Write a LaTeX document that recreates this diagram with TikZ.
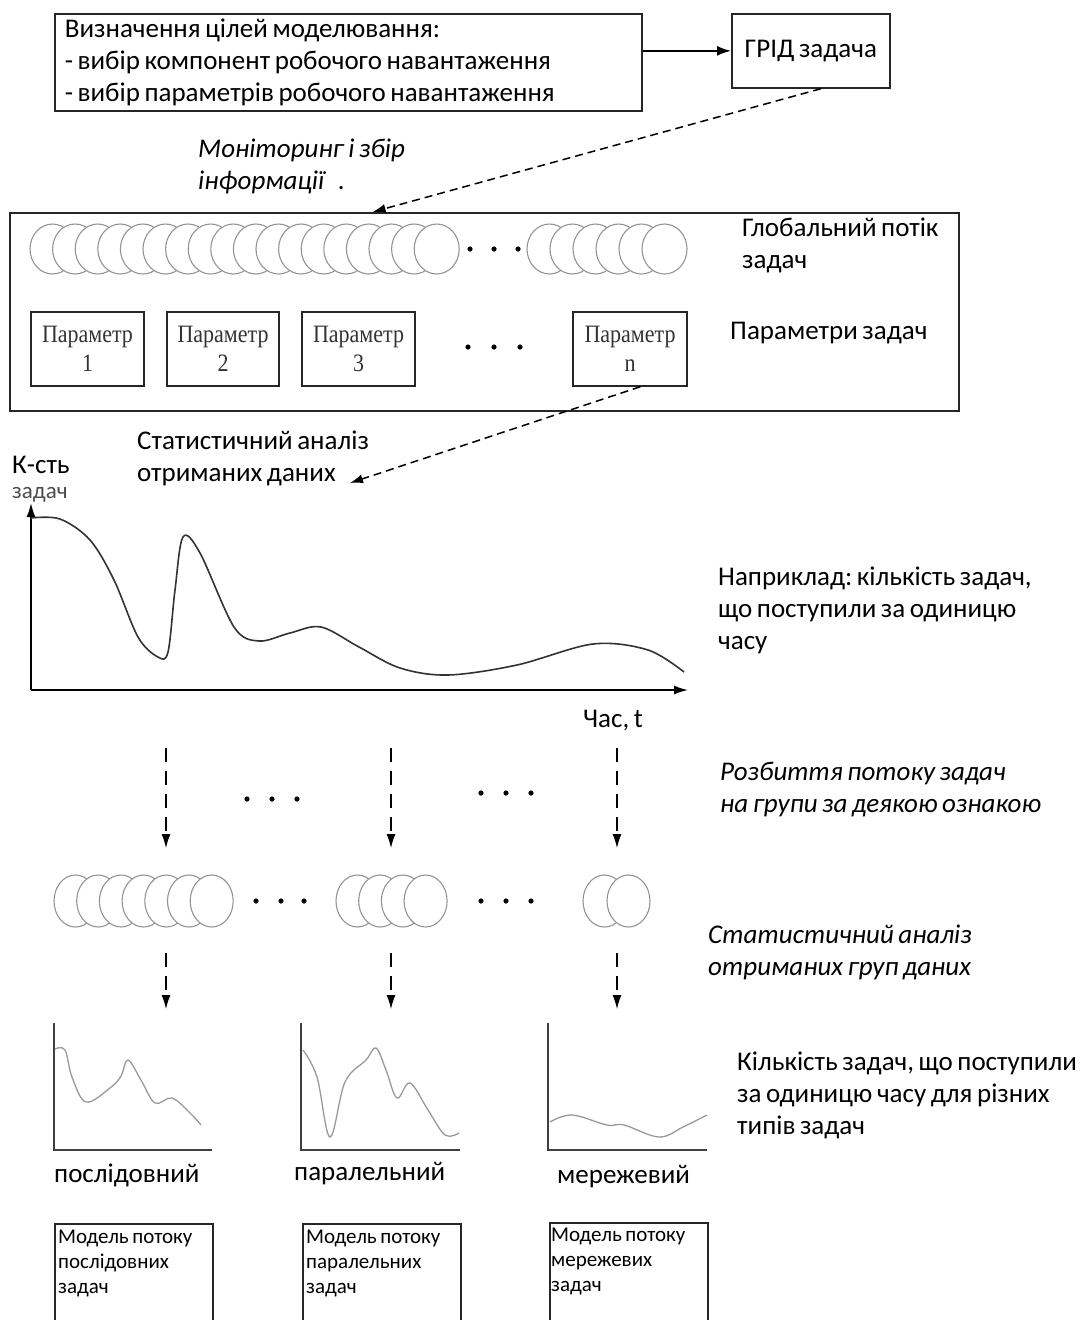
\documentclass[tikz,border=0pt]{standalone}
\usepackage{fontspec}
\setmainfont{Carlito}[WordSpace=0.75]
\newfontfamily\parfont[FakeStretch=0.88]{Liberation Serif}
\usetikzlibrary{arrows.meta,calc}
\frenchspacing

\begin{document}
\begin{tikzpicture}[x=1pt,y=-1pt,
  box/.style={draw=black!85, line width=1.7pt, inner sep=0pt},
  parbox/.style={draw=black!85, line width=1.4pt, inner sep=0pt,
    minimum width=113pt, minimum height=74pt, align=center,
    font=\parfont\fontsize{25}{29}\selectfont, text=black!80},
  modelbox/.style={draw=black!85, line width=1.7pt, inner sep=0pt,
    anchor=north west, minimum width=158pt, minimum height=130pt},
  disk/.style={draw=black!42, fill=white, line width=1.1pt},
  dot/.style={fill=black},
  solidarrow/.style={-{Latex[length=14pt,width=10pt]}, line width=1.7pt},
  dasharrow/.style={-{Latex[length=13pt,width=9pt]}, line width=1.5pt,
    dash pattern=on 8pt off 5pt},
  vdash/.style={-{Latex[length=14pt,width=9pt]}, line width=1.2pt,
    dash pattern=on 14pt off 9pt},
  axis/.style={-{Latex[length=14pt,width=9pt]}, line width=1.6pt},
  smallaxis/.style={line width=2pt, draw=black!75},
  bigcurve/.style={line width=1.6pt, draw=black!80},
  smallcurve/.style={line width=1.3pt, draw=black!40},
  lbl/.style={anchor=base west, align=left, inner sep=0pt,
    font=\fontsize{27}{32}\selectfont},
  ilbl/.style={lbl, font=\fontsize{27}{32}\selectfont\itshape},
  mtext/.style={anchor=base west, align=left, inner sep=0pt,
    font=\fontsize{21}{25}\selectfont}
]
\useasboundingbox (0,0) rectangle (1084,1320);
% note: a multi-line label's base anchor sits on its last line

% goals of modelling and the grid task
\node[box, anchor=north west, minimum width=587pt, minimum height=97pt,
      text width=567pt, inner xsep=10pt, align=flush left,
      font=\fontsize{27}{32}\selectfont] (goal) at (54,13)
  {Визначення цілей моделювання:\\- вибір компонент робочого навантаження\\- вибір параметрів робочого навантаження};
\node[box, anchor=north west, minimum width=158pt, minimum height=74pt,
      font=\fontsize{27}{32}\selectfont] (grid) at (731,13) {ГРІД задача};
\draw[solidarrow] (goal.east |- grid.west) -- (grid.west);

% global task flow
\node[box, anchor=north west, minimum width=949pt, minimum height=198pt] (flow) at (9,212) {};
\draw[dasharrow] ($(grid.south west)!0.563!(grid.south east)$) -- ($(flow.north west)!0.3825!(flow.north east)$);
\node[ilbl] (mon) at (198,189.5) {Моніторинг і збір\\інформації\hspace{14pt}.};

\foreach \i in {0,...,17}
  \draw[disk] ({52.5+22.6*\i},249) ellipse [x radius=22.5pt, y radius=25pt];
\foreach \x in {470,494,518} \fill[dot] (\x,249) circle[radius=2.6pt];
\foreach \i in {0,...,5}
  \draw[disk] ({549.5+23*\i},249) ellipse [x radius=22.5pt, y radius=25pt];
\node[lbl] (gflow) at (742,268.5) {Глобальний потік\\задач};

\node[parbox] (p1) at (87.5,349) {Параметр\\1};
\node[parbox, minimum width=112pt] (p2) at (223,349) {Параметр\\2};
\node[parbox] (p3) at (358.5,349) {Параметр\\3};
\foreach \x in {468,494,520} \fill[dot] (\x,347) circle[radius=2.6pt];
\node[parbox, minimum width=114pt] (pn) at (630,349) {Параметр\\n};
\node[lbl] (ptasks) at (730,339.5) {Параметри задач};

% statistical analysis of the collected data
\node[lbl] (stat1) at (137,481.5) {Статистичний аналіз\\отриманих даних};
\coordinate (statend) at (350,483);
\draw[dasharrow] ($(pn.south west)!0.59!(pn.south east)$) -- (statend);

% arrivals over time
\node[lbl] (ylab) at (12,473) {К-сть};
\node[anchor=base west, inner sep=0pt, text=black!70,
      font=\fontsize{23}{26}\selectfont] (ylab2) at (12,498) {задач};
\coordinate (origin) at (31,690);
\coordinate (ytop) at (31,503);
\coordinate (xend) at (688,690);
\draw[axis] (origin) -- (ytop);
\draw[axis] (origin) -- (xend);
\draw[bigcurve] plot[smooth, tension=0.55] coordinates {(31,518) (60,519) (90,540) (114,580) (138,637) (158,657) (168,652) (175,590) (183,537) (200,553) (234,627) (259,641) (290,633) (321,627) (359,647) (400,668) (448,675) (517,665) (593,644) (648,650) (684,672)};
\node[lbl] (tlab) at (583,727.5) {Час, t};
\node[lbl] (example) at (718,649.5) {Наприклад: кількість задач,\\що поступили за одиницю\\часу};

% splitting into groups
\foreach \n/\x in {1/166, 2/391, 3/617} {
  \coordinate (s\n) at (\x,748);
  \coordinate (e\n) at (\x,848);
  \draw[vdash] (s\n) -- (e\n);
}
\foreach \x in {247,272,297} \fill[dot] (\x,799) circle[radius=2.6pt];
\foreach \x in {481,506,531} \fill[dot] (\x,793) circle[radius=2.6pt];
\node[ilbl] (split) at (720,812.5) {Розбиття потоку задач\\на групи за деякою ознакою};

\foreach \i in {0,...,6}
  \draw[disk] ({75.5+22.7*\i},901) ellipse [x radius=21.5pt, y radius=26pt];
\foreach \x in {256,281,304} \fill[dot] (\x,901) circle[radius=2.6pt];
\foreach \i in {0,...,3}
  \draw[disk] ({357.5+22.7*\i},901) ellipse [x radius=21.5pt, y radius=26pt];
\foreach \x in {481,506,531} \fill[dot] (\x,901) circle[radius=2.6pt];
\foreach \i in {0,...,1}
  \draw[disk] ({604.5+24*\i},901) ellipse [x radius=21.5pt, y radius=26pt];

\foreach \n/\x in {1/166, 2/391, 3/617} {
  \coordinate (t\n) at (\x,953);
  \coordinate (b\n) at (\x,1009);
  \draw[vdash] (t\n) -- (b\n);
}
\node[ilbl] (stat2) at (708,975.5) {Статистичний аналіз\\отриманих груп даних};

% arrivals per task type
\draw[smallaxis] (54,1023) -- (54,1150) -- (212,1150);
\draw[smallcurve] plot[smooth, tension=0.6] coordinates {(55,1049) (65,1050) (72,1077) (86,1102) (110,1088) (121,1076) (128,1060) (141,1080) (155,1103) (172,1098) (190,1113) (201,1125)};
\draw[smallaxis] (301,1023) -- (301,1150) -- (460,1150);
\draw[smallcurve] plot[smooth, tension=0.6] coordinates {(303,1050) (317,1077) (330,1137) (345,1082) (366,1060) (376,1048) (386,1070) (397,1098) (410,1083) (428,1110) (445,1135) (459,1133)};
\draw[smallaxis] (548,1023) -- (548,1150) -- (707,1150);
\draw[smallcurve] plot[smooth, tension=0.6] coordinates {(550,1122) (572,1115) (607,1125) (624,1125) (659,1137) (683,1127) (707,1115)};

\node[lbl] (seq) at (54,1182.5) {послідовний};
\node[lbl] (par) at (294,1180.5) {паралельний};
\node[lbl] (net) at (557,1183.5) {мережевий};
\node[lbl] (count) at (737,1134.5) {Кількість задач, що поступили\\за одиницю часу для різних\\типів задач};

% flow models
\node[modelbox] (m1) at (54,1223) {};
\node[modelbox] (m2) at (302,1223) {};
\node[modelbox] (m3) at (549,1222) {};
\node[mtext] (m1t) at (58,1293) {Модель потоку\\послідовних\\задач};
\node[mtext] (m2t) at (306,1293) {Модель потоку\\паралельних\\задач};
\node[mtext] (m3t) at (551,1291) {Модель потоку\\мережевих\\задач};
\end{tikzpicture}
\end{document}
